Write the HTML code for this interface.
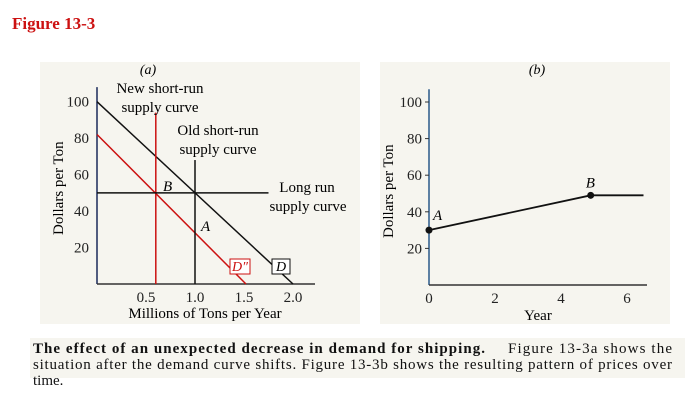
<!DOCTYPE html>
<html><head><meta charset="utf-8"><style>
body{margin:0;width:687px;height:401px;background:#fff;overflow:hidden;font-family:"Liberation Serif",serif}
svg{position:absolute;left:0;top:0}
</style></head><body>
<svg width="687" height="401" xmlns="http://www.w3.org/2000/svg" font-family="Liberation Serif, serif">
<rect x="0" y="0" width="687" height="401" fill="#fff"/>
<rect x="30" y="338" width="655" height="40" fill="#f6f5ef"/>
<rect x="40" y="62" width="320" height="262" fill="#f6f5ef"/>
<rect x="380" y="62" width="290" height="262" fill="#f6f5ef"/>
<text x="12" y="29" fill="#cc1111" font-weight="bold" font-size="17">Figure 13-3</text>
<g id="pa"></g>
<g id="pb"></g>
<text x="33" y="353" font-size="15" font-weight="bold" fill="#111" textLength="452" lengthAdjust="spacing">The effect of an unexpected decrease in demand for shipping.</text>
<text x="508" y="353" font-size="15" fill="#111" textLength="164" lengthAdjust="spacing">Figure 13-3a shows the</text>
<text x="33" y="369" font-size="15" fill="#111" textLength="639" lengthAdjust="spacing">situation after the demand curve shifts. Figure 13-3b shows the resulting pattern of prices over</text>
<text x="33" y="385" font-size="15" fill="#111">time.</text>
</svg>
<script>
const NS="http://www.w3.org/2000/svg";
// Panel a data
const aYTicks=[20,40,60,80,100];
const aXTicks=[0.5,1.0,1.5,2.0];
const demandD=[[0,100],[2.0,0]];
const demandD2=[[0,82],[1.52,0]];
const newSR=[[0.6,94],[0.6,0]];
const oldSR=[[1.0,68],[1.0,0]];
const longRun=[[0,50],[1.75,50]];
// Panel b data
const bYTicks=[20,40,60,80,100];
const bXTicks=[0,2,4,6];
const priceYears=[0,4.9,6.5];
const priceValues=[30,49,49];

function mk(p,tag,attrs,name,txt){const e=document.createElementNS(NS,tag);for(const k in attrs)e.setAttribute(k,attrs[k]);


if(txt!==undefined)e.textContent=txt;p.appendChild(e);return e;}

const FS=15;
// Panel a scales
const ax=v=>97+v*98, ay=v=>284-v*1.823;
const pa=document.getElementById('pa');
mk(pa,'line',{x1:97,y1:ay(108),x2:97,y2:284,stroke:'#1a2a5a','stroke-width':1.5},'y-axis-a');
mk(pa,'line',{x1:97,y1:284,x2:315,y2:284,stroke:'#333','stroke-width':1.5},'x-axis-a');
aYTicks.forEach(t=>{mk(pa,'text',{x:89,y:ay(t)+5,'text-anchor':'end','font-size':FS,fill:'#222'},'y-tick-a',String(t));});
aXTicks.forEach(t=>{mk(pa,'text',{x:ax(t),y:302,'text-anchor':'middle','font-size':FS,fill:'#222'},'x-tick-a',t.toFixed(1));});
function seg(p,pts,col,name,sx,sy){mk(p,'line',{x1:sx(pts[0][0]),y1:sy(pts[0][1]),x2:sx(pts[1][0]),y2:sy(pts[1][1]),stroke:col,'stroke-width':1.5},name);}
seg(pa,demandD,'#111','demand-curve-d',ax,ay);
seg(pa,demandD2,'#cc1111','demand-curve-d2',ax,ay);
seg(pa,newSR,'#cc1111','new-short-run-supply',ax,ay);
seg(pa,oldSR,'#111','old-short-run-supply',ax,ay);
seg(pa,longRun,'#111','long-run-supply',ax,ay);
mk(pa,'text',{x:ax(0.5)+2,y:74,'text-anchor':'middle','font-size':14,'font-style':'italic'},'panel-a-label','(a)');
mk(pa,'text',{x:160,y:93,'text-anchor':'middle','font-size':FS},'label-new-sr-1','New short-run');
mk(pa,'text',{x:160,y:112,'text-anchor':'middle','font-size':FS},'label-new-sr-2','supply curve');
mk(pa,'text',{x:218,y:135,'text-anchor':'middle','font-size':FS},'label-old-sr-1','Old short-run');
mk(pa,'text',{x:218,y:154,'text-anchor':'middle','font-size':FS},'label-old-sr-2','supply curve');
mk(pa,'text',{x:307,y:192,'text-anchor':'middle','font-size':FS},'label-long-run-1','Long run');
mk(pa,'text',{x:308,y:211,'text-anchor':'middle','font-size':FS},'label-long-run-2','supply curve');
mk(pa,'text',{x:163,y:191,'font-size':FS,'font-style':'italic'},'point-b-label','B');
mk(pa,'text',{x:201,y:231,'font-size':FS,'font-style':'italic'},'point-a-label','A');
mk(pa,'rect',{x:230,y:259,width:20,height:15,fill:'#fff',stroke:'#cc1111'},'d2-box');
mk(pa,'text',{x:232,y:271,'font-size':14,'font-style':'italic',fill:'#cc1111'},'d2-label','D″');
mk(pa,'rect',{x:272,y:259,width:18,height:15,fill:'#fff',stroke:'#111'},'d-box');
mk(pa,'text',{x:276,y:271,'font-size':14,'font-style':'italic'},'d-label','D');
mk(pa,'text',{x:0,y:0,'font-size':FS,transform:'translate(63,235) rotate(-90)'},'y-axis-title-a','Dollars per Ton');
mk(pa,'text',{x:205,y:318,'text-anchor':'middle','font-size':FS},'x-axis-title-a','Millions of Tons per Year');

// Panel b
const bx=v=>429+v*33, by=v=>285-v*1.83;
const pb=document.getElementById('pb');
mk(pb,'line',{x1:429,y1:by(107),x2:429,y2:285,stroke:'#2a5a8a','stroke-width':1.5},'y-axis-b');
mk(pb,'line',{x1:429,y1:285,x2:647,y2:285,stroke:'#333','stroke-width':1.5},'x-axis-b');
bYTicks.forEach(t=>{mk(pb,'text',{x:422,y:by(t)+5,'text-anchor':'end','font-size':FS,fill:'#222'},'y-tick-b',String(t));
mk(pb,'line',{x1:425,y1:by(t),x2:429,y2:by(t),stroke:'#333'},'y-tickmark-b');});
bXTicks.forEach(t=>{mk(pb,'text',{x:bx(t),y:303,'text-anchor':'middle','font-size':FS,fill:'#222'},'x-tick-b',String(t));});
let d='';priceYears.forEach((y,i)=>{d+=(i?'L':'M')+bx(y)+','+by(priceValues[i]);});
mk(pb,'path',{d:d,fill:'none',stroke:'#111','stroke-width':1.8},'price-line');
[0,1].forEach(i=>{mk(pb,'circle',{cx:bx(priceYears[i]),cy:by(priceValues[i]),r:3.5,fill:'#111'},'price-point');});
mk(pb,'text',{x:bx(0)+4,y:by(priceValues[0])-10,'font-size':FS,'font-style':'italic'},'point-a-label-b','A');
mk(pb,'text',{x:bx(priceYears[1])-5,y:by(priceValues[1])-8,'font-size':FS,'font-style':'italic'},'point-b-label-b','B');
mk(pb,'text',{x:537,y:74,'text-anchor':'middle','font-size':14,'font-style':'italic'},'panel-b-label','(b)');
mk(pb,'text',{x:0,y:0,'font-size':FS,transform:'translate(393,238) rotate(-90)'},'y-axis-title-b','Dollars per Ton');
mk(pb,'text',{x:538,y:320,'text-anchor':'middle','font-size':FS},'x-axis-title-b','Year');
</script>
</body></html>
